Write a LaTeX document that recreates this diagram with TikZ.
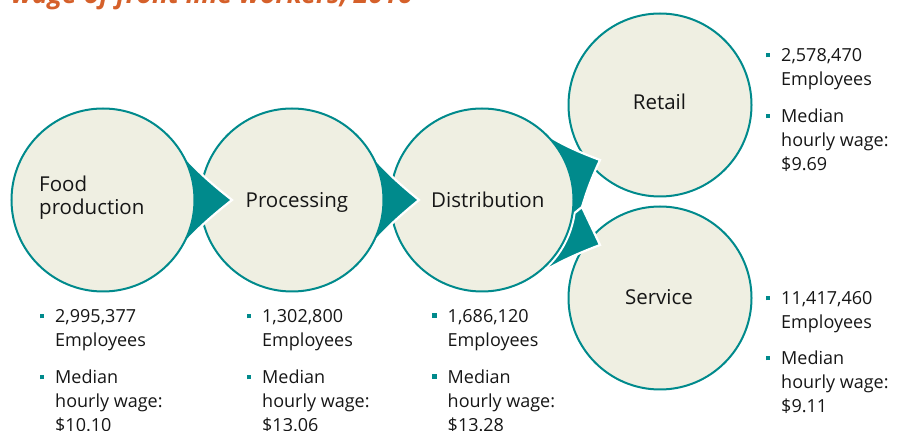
\documentclass[tikz,border=0pt]{standalone}
\usepackage{fontspec}
\setmainfont{Open Sans}
\usetikzlibrary{calc}
\definecolor{tealc}{RGB}{0,138,140}
\definecolor{creamc}{RGB}{239,239,226}
\definecolor{orangec}{RGB}{213,96,42}
\definecolor{inkc}{RGB}{22,22,22}

% small teal square set to the left of a bullet item
\newcommand\bsq{\llap{\textcolor{tealc}{\rule[4.7pt]{4.6pt}{4.6pt}}\hspace{11pt}}}

\begin{document}
\begin{tikzpicture}[x=1pt,y=1pt,
  stage/.style={circle, draw=tealc, line width=2pt, fill=creamc,
                minimum size=183pt, inner sep=0pt},
  chev/.style={fill=tealc, draw=white, line width=2.2pt},
  lbl/.style={font=\fontsize{20.5}{23.5}\selectfont, text=inkc,
              inner sep=0pt, anchor=base west},
  info/.style={font=\fontsize{18}{24}\selectfont, text=inkc,
               inner sep=0pt, anchor=base west},
]
\useasboundingbox (0,0) rectangle (897,431);

% heading, only its lower part lies inside the page
\begin{scope}
  \clip (0,0) rectangle (897,431);
  \node[anchor=base west, inner sep=0pt, text=orangec,
        font=\fontsize{26.5}{30}\selectfont\bfseries\itshape]
        (title) at (11,427.5) {wage of front line workers, 2016};
\end{scope}

% centres of the five stages
\coordinate (cF) at (103,231);
\coordinate (cP) at (292,231);
\coordinate (cD) at (482,231);
\coordinate (cR) at (660,326);
\coordinate (cS) at (660,133);

% the two end stages
\node[stage] (R) at (cR) {};
\node[stage] (S) at (cS) {};

% distribution fans out to retail and service
\path[chev] ($(cD)+(60:90)$) to[bend right=7] ($(cD)+(118,40)$)
  to[bend right=4] ($(cD)+(100,-7)$) -- ($(cD)+(-20:88)$) -- (cD) -- cycle;
\path[chev] ($(cD)+(-64:93.5)$) to[bend left=6] ($(cD)+(118,-45)$)
  -- ($(cD)+(100,-7)$) -- ($(cD)+(-8:93.5)$)
  arc[start angle=-8, end angle=-64, radius=93.5] -- cycle;
\node[stage] (D) at (cD) {};

% processing to distribution
\path[chev] ($(cP)+(43.6:90)$) to[bend right=6] ($(cP)+(127,0)$)
  to[bend right=6] ($(cP)+(-43.6:90)$) -- (cP) -- cycle;
\node[stage] (P) at (cP) {};

% food production to processing
\path[chev] ($(cF)+(44.5:90)$) to[bend right=6] ($(cF)+(129,0)$)
  to[bend right=6] ($(cF)+(-44.5:90)$) -- (cF) -- cycle;
\node[stage] (F) at (cF) {};

% stage names
\node[lbl] (tF) at (39,239.5) {\vtop{\hbox{Food}\hbox{production}}};
\node[lbl] (tP) at (245.5,223.7) {Processing};
\node[lbl] (tD) at (431,223.7) {Distribution};
\node[lbl, anchor=base] (tR) at (659.5,321) {Retail};
\node[lbl, anchor=base] (tS) at (659,126) {Service};

% figures for each stage
\node[info] (f1) at (55,108) {\bsq\vtop{\hbox{2,995,377}\hbox{Employees}}};
\node[info] (f2) at (55,47) {\bsq\vtop{\hbox{Median}\hbox{hourly wage:}\hbox{\$10.10}}};
\node[info] (p1) at (262,108) {\bsq\vtop{\hbox{1,302,800}\hbox{Employees}}};
\node[info] (p2) at (262,47) {\bsq\vtop{\hbox{Median}\hbox{hourly wage:}\hbox{\$13.06}}};
\node[info] (d1) at (447.5,108.5) {\bsq\vtop{\hbox{1,686,120}\hbox{Employees}}};
\node[info] (d2) at (447.5,47.5) {\bsq\vtop{\hbox{Median}\hbox{hourly wage:}\hbox{\$13.28}}};
\node[info] (r1) at (781,369) {\bsq\vtop{\hbox{2,578,470}\hbox{Employees}}};
\node[info] (r2) at (781,308) {\bsq\vtop{\hbox{Median}\hbox{hourly wage:}\hbox{\$9.69}}};
\node[info] (s1) at (781,126) {\bsq\vtop{\hbox{11,417,460}\hbox{Employees}}};
\node[info] (s2) at (781,66) {\bsq\vtop{\hbox{Median}\hbox{hourly wage:}\hbox{\$9.11}}};
\end{tikzpicture}
\end{document}
